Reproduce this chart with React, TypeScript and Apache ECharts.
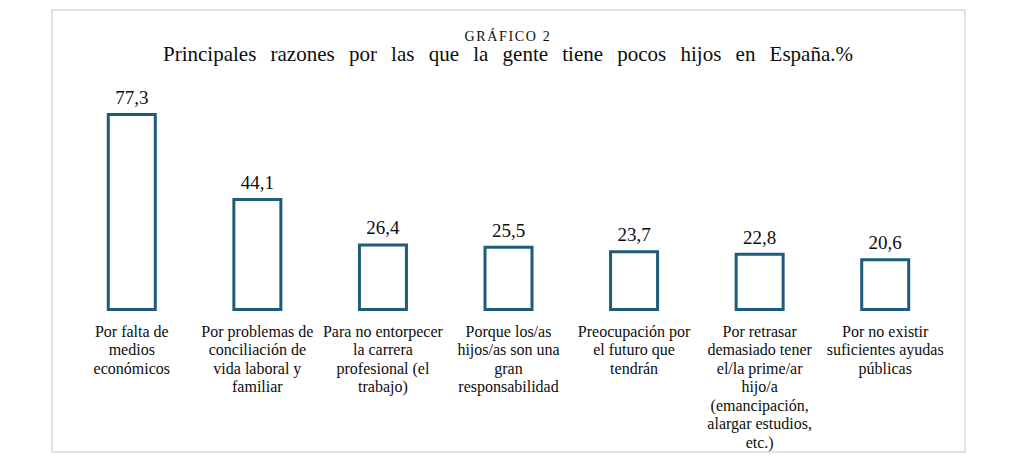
import React, { useEffect, useRef } from "react";
import * as echarts from "echarts";

const categories: string[] = [
  "Por falta de\nmedios\neconómicos",
  "Por problemas de\nconciliación de\nvida laboral y\nfamiliar",
  "Para no entorpecer\nla carrera\nprofesional (el\ntrabajo)",
  "Porque los/as\nhijos/as son una\ngran\nresponsabilidad",
  "Preocupación por\nel futuro que\ntendrán",
  "Por retrasar\ndemasiado tener\nel/la prime/ar\nhijo/a\n(emancipación,\nalargar estudios,\netc.)",
  "Por no existir\nsuficientes ayudas\npúblicas",
];
const values: number[] = [77.3, 44.1, 26.4, 25.5, 23.7, 22.8, 20.6];
const supTitle = "GRÁFICO 2";
const mainTitle = "Principales razones por las que la gente tiene pocos hijos en España.%";

const FONT = "Liberation Serif";
const BAR = "#1f5c7a";
const INK = "#0d0d0d";

function measure(text: string, size: number): number {
  const c = document.createElement("canvas").getContext("2d");
  if (!c) return 0;
  c.font = `${size}px "${FONT}"`;
  return c.measureText(text).width;
}

export default function App() {
  const ref = useRef<HTMLDivElement>(null);
  useEffect(() => {
    if (!ref.current) return;
    const chart = echarts.init(ref.current, null, { renderer: "svg" });
    chart.setOption({
      animation: false,
      backgroundColor: "#ffffff",
      textStyle: { fontFamily: FONT },
      graphic: [
        {
          type: "rect",
          shape: { x: 52, y: 10, width: 913, height: 442 },
          style: { fill: "none", stroke: "#d9d9d9", lineWidth: 1.5 },
          silent: true,
        },
        {
          type: "text",
          x: 508,
          y: 36,
          style: {
            text: supTitle,
            fontFamily: FONT,
            fontSize: 14,
            fill: INK,
            align: "center",
            verticalAlign: "middle",
          },
        },
        {
          type: "text",
          x: 508,
          y: 54,
          style: {
            text: mainTitle,
            fontFamily: FONT,
            fontSize: 21,
            fill: INK,
            align: "center",
            verticalAlign: "middle",
          },
        },
      ],
      grid: { left: 69, right: 1011 - 948, top: 55, bottom: 470 - 311, containLabel: false },
      xAxis: {
        type: "category",
        data: categories,
        axisLine: { show: false },
        axisTick: { show: false },
        axisLabel: {
          interval: 0,
          margin: 11,
          fontFamily: FONT,
          fontSize: 16,
          lineHeight: 18.5,
          color: INK,
          align: "center",
        },
      },
      yAxis: {
        type: "value",
        min: 0,
        max: 100,
        show: false,
        splitLine: { show: false },
      },
      series: [
        {
          type: "bar",
          data: values,
          barWidth: 50,
          itemStyle: { color: "#ffffff", borderColor: BAR, borderWidth: 3 },
          label: {
            show: true,
            position: "top",
            distance: 6,
            fontFamily: FONT,
            fontSize: 19,
            color: INK,
            formatter: (p: any) => String(p.value).replace(".", ","),
          },
        },
      ],
    });
    const texts = ref.current.querySelectorAll("text");
    const spaces = (mainTitle.match(/ /g) || []).length;
    const wordSp = Math.max(0, (690 - measure(mainTitle, 21)) / spaces);
    const supSp = Math.max(0, (87 - measure(supTitle, 14)) / supTitle.length);
    texts.forEach((t) => {
      if (t.textContent === mainTitle) t.setAttribute("word-spacing", wordSp.toFixed(2));
      if (t.textContent === supTitle) t.setAttribute("letter-spacing", supSp.toFixed(2));
    });
    return () => chart.dispose();
  }, []);
  return (
    <div
      ref={ref}
      style={{ position: "absolute", left: 0, top: 0, width: 1011, height: 470 }}
    />
  );
}
